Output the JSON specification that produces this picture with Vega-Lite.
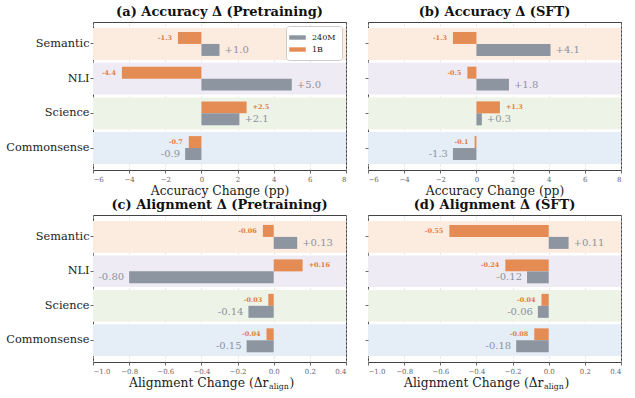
{
  "$schema": "https://vega.github.io/schema/vega-lite/v6.json",
  "padding": 5,
  "datasets": {
    "bands": [
      {"cat": "Semantic"}, {"cat": "NLI"}, {"cat": "Science"}, {"cat": "Commonsense"}
    ],
    "rows": [
      {"panel": "a", "cat": "Semantic", "model": "1B", "v": -1.3, "lab": "-1.3"},
      {"panel": "a", "cat": "Semantic", "model": "240M", "v": 1.0, "lab": "+1.0"},
      {"panel": "a", "cat": "NLI", "model": "1B", "v": -4.4, "lab": "-4.4"},
      {"panel": "a", "cat": "NLI", "model": "240M", "v": 5.0, "lab": "+5.0"},
      {"panel": "a", "cat": "Science", "model": "1B", "v": 2.5, "lab": "+2.5"},
      {"panel": "a", "cat": "Science", "model": "240M", "v": 2.1, "lab": "+2.1"},
      {"panel": "a", "cat": "Commonsense", "model": "1B", "v": -0.7, "lab": "-0.7"},
      {"panel": "a", "cat": "Commonsense", "model": "240M", "v": -0.9, "lab": "-0.9"},
      {"panel": "b", "cat": "Semantic", "model": "1B", "v": -1.3, "lab": "-1.3"},
      {"panel": "b", "cat": "Semantic", "model": "240M", "v": 4.1, "lab": "+4.1"},
      {"panel": "b", "cat": "NLI", "model": "1B", "v": -0.5, "lab": "-0.5"},
      {"panel": "b", "cat": "NLI", "model": "240M", "v": 1.8, "lab": "+1.8"},
      {"panel": "b", "cat": "Science", "model": "1B", "v": 1.3, "lab": "+1.3"},
      {"panel": "b", "cat": "Science", "model": "240M", "v": 0.3, "lab": "+0.3"},
      {"panel": "b", "cat": "Commonsense", "model": "1B", "v": -0.1, "lab": "-0.1"},
      {"panel": "b", "cat": "Commonsense", "model": "240M", "v": -1.3, "lab": "-1.3"},
      {"panel": "c", "cat": "Semantic", "model": "1B", "v": -0.06, "lab": "-0.06"},
      {"panel": "c", "cat": "Semantic", "model": "240M", "v": 0.13, "lab": "+0.13"},
      {"panel": "c", "cat": "NLI", "model": "1B", "v": 0.16, "lab": "+0.16"},
      {"panel": "c", "cat": "NLI", "model": "240M", "v": -0.80, "lab": "-0.80"},
      {"panel": "c", "cat": "Science", "model": "1B", "v": -0.03, "lab": "-0.03"},
      {"panel": "c", "cat": "Science", "model": "240M", "v": -0.14, "lab": "-0.14"},
      {"panel": "c", "cat": "Commonsense", "model": "1B", "v": -0.04, "lab": "-0.04"},
      {"panel": "c", "cat": "Commonsense", "model": "240M", "v": -0.15, "lab": "-0.15"},
      {"panel": "d", "cat": "Semantic", "model": "1B", "v": -0.55, "lab": "-0.55"},
      {"panel": "d", "cat": "Semantic", "model": "240M", "v": 0.11, "lab": "+0.11"},
      {"panel": "d", "cat": "NLI", "model": "1B", "v": -0.24, "lab": "-0.24"},
      {"panel": "d", "cat": "NLI", "model": "240M", "v": -0.12, "lab": "-0.12"},
      {"panel": "d", "cat": "Science", "model": "1B", "v": -0.04, "lab": "-0.04"},
      {"panel": "d", "cat": "Science", "model": "240M", "v": -0.06, "lab": "-0.06"},
      {"panel": "d", "cat": "Commonsense", "model": "1B", "v": -0.08, "lab": "-0.08"},
      {"panel": "d", "cat": "Commonsense", "model": "240M", "v": -0.18, "lab": "-0.18"}
    ]
  },
  "config": {
    "font": "DejaVu Serif",
    "view": {"stroke": "#444", "strokeWidth": 1},
    "axis": {"labelFont": "DejaVu Serif", "titleFont": "DejaVu Serif", "tickColor": "#444", "tickSize": 3, "tickWidth": 0.8, "domain": false},
    "axisX": {"labelFontSize": 7, "labelColor": "#666", "labelOverlap": false, "titleFontSize": 12.3, "titleFontWeight": "normal", "titleColor": "#222", "grid": true, "gridDash": [2, 2], "gridColor": "#cfcfcf", "gridWidth": 0.6, "zindex": 1, "labelPadding": 2, "titlePadding": 2},
    "axisY": {"labelFontSize": 11.3, "labelColor": "#222", "grid": false, "labelPadding": 1},
    "title": {"font": "DejaVu Serif", "fontSize": 13, "fontWeight": "bold", "color": "#111", "offset": 3}
  },
  "spacing": 1,
  "resolve": {"scale": {"color": "independent"}, "legend": {"color": "independent"}},
  "vconcat": [
    {
      "spacing": 17,
      "resolve": {"scale": {"color": "independent"}, "legend": {"color": "independent"}},
      "hconcat": [
        {
          "width": 253, "height": 148,
          "title": "(a) Accuracy Δ (Pretraining)",
          "resolve": {"axis": {"x": "independent"}},
          "layer": [
            {
              "data": {"name": "bands"},
              "mark": {"type": "rect"},
              "encoding": {
                "y": {"field": "cat", "type": "nominal", "scale": {"domain": ["Semantic", "NLI", "Science", "Commonsense"], "paddingInner": 0.08, "paddingOuter": 0.1725}, "axis": {"title": null}},
                "x": {"datum": -6, "type": "quantitative", "scale": {"domain": [-6, 8], "nice": false}, "axis": {"orient": "bottom", "title": "Accuracy Change (pp)", "titleBaseline": "alphabetic", "titleY": 24, "values": [-6, -4, -2, 0, 2, 4, 6, 8], "format": "d", "labelOverlap": false}},
                "x2": {"datum": 8},
                "fill": {"field": "cat", "type": "nominal", "scale": {"domain": ["Semantic", "NLI", "Science", "Commonsense"], "range": ["#fcebdf", "#efebf4", "#edf3e6", "#e5eef7"]}, "legend": null}
              }
            },
            {
              "data": {"name": "rows"},
              "transform": [{"filter": "datum.panel == 'a'"}],
              "mark": {"type": "bar"},
              "encoding": {
                "y": {"field": "cat", "type": "nominal"},
                "yOffset": {"field": "model", "type": "nominal", "scale": {"domain": ["1B", "240M"], "paddingInner": 0, "paddingOuter": 0.333}},
                "x": {"field": "v", "type": "quantitative", "axis": null},
                "color": {"field": "model", "type": "nominal", "scale": {"domain": ["240M", "1B"], "range": ["#8d95a0", "#e58c55"]},
                  "legend": {"title": null, "orient": "top-right", "offset": 4, "padding": 6, "fillColor": "white", "strokeColor": "#cccccc", "cornerRadius": 3, "labelFont": "DejaVu Serif", "labelFontSize": 8, "labelColor": "#222", "symbolType": "M-1.5,-0.4L1.5,-0.4L1.5,0.4L-1.5,0.4Z", "symbolSize": 121, "symbolStrokeWidth": 0, "rowPadding": 2, "labelOffset": 9}}
              }
            },
            {"mark": {"type": "rule", "color": "#333", "strokeWidth": 1.3}, "encoding": {"x": {"datum": 0, "axis": null}}},
            {
              "data": {"name": "rows"},
              "transform": [{"filter": "datum.panel == 'a' && datum.model == '1B'"}],
              "mark": {"type": "text", "fontSize": 6.5, "fontWeight": "bold", "color": "#e07d40", "baseline": "middle", "align": {"expr": "datum.v < 0 ? 'right' : 'left'"}, "dx": {"expr": "datum.v < 0 ? -6 : 6"}},
              "encoding": {"y": {"field": "cat", "type": "nominal"}, "yOffset": {"field": "model", "type": "nominal"}, "x": {"field": "v", "type": "quantitative", "axis": null}, "text": {"field": "lab"}}
            },
            {
              "data": {"name": "rows"},
              "transform": [{"filter": "datum.panel == 'a' && datum.model == '240M'"}],
              "mark": {"type": "text", "fontSize": 10, "color": "#8b929e", "baseline": "middle", "align": {"expr": "datum.v < 0 ? 'right' : 'left'"}, "dx": {"expr": "datum.v < 0 ? -5 : 5"}},
              "encoding": {"y": {"field": "cat", "type": "nominal"}, "yOffset": {"field": "model", "type": "nominal"}, "x": {"field": "v", "type": "quantitative", "axis": null}, "text": {"field": "lab"}}
            }
          ]
        },
        {
          "width": 253, "height": 148,
          "title": "(b) Accuracy Δ (SFT)",
          "resolve": {"axis": {"x": "independent"}},
          "layer": [
            {
              "data": {"name": "bands"},
              "mark": {"type": "rect"},
              "encoding": {
                "y": {"field": "cat", "type": "nominal", "scale": {"domain": ["Semantic", "NLI", "Science", "Commonsense"], "paddingInner": 0.08, "paddingOuter": 0.1725}, "axis": {"title": null, "labels": false}},
                "x": {"datum": -6, "type": "quantitative", "scale": {"domain": [-6, 8], "nice": false}, "axis": {"orient": "bottom", "title": "Accuracy Change (pp)", "titleBaseline": "alphabetic", "titleY": 24, "values": [-6, -4, -2, 0, 2, 4, 6, 8], "format": "d", "labelOverlap": false}},
                "x2": {"datum": 8},
                "fill": {"field": "cat", "type": "nominal", "scale": {"domain": ["Semantic", "NLI", "Science", "Commonsense"], "range": ["#fcebdf", "#efebf4", "#edf3e6", "#e5eef7"]}, "legend": null}
              }
            },
            {
              "data": {"name": "rows"},
              "transform": [{"filter": "datum.panel == 'b'"}],
              "mark": {"type": "bar"},
              "encoding": {
                "y": {"field": "cat", "type": "nominal"},
                "yOffset": {"field": "model", "type": "nominal", "scale": {"domain": ["1B", "240M"], "paddingInner": 0, "paddingOuter": 0.333}},
                "x": {"field": "v", "type": "quantitative", "axis": null},
                "color": {"condition": {"test": "datum.model == '1B'", "value": "#e58c55"}, "value": "#8d95a0"}
              }
            },
            {"mark": {"type": "rule", "color": "#333", "strokeWidth": 1.3}, "encoding": {"x": {"datum": 0, "axis": null}}},
            {
              "data": {"name": "rows"},
              "transform": [{"filter": "datum.panel == 'b' && datum.model == '1B'"}],
              "mark": {"type": "text", "fontSize": 6.5, "fontWeight": "bold", "color": "#e07d40", "baseline": "middle", "align": {"expr": "datum.v < 0 ? 'right' : 'left'"}, "dx": {"expr": "datum.v < 0 ? -6 : 6"}},
              "encoding": {"y": {"field": "cat", "type": "nominal"}, "yOffset": {"field": "model", "type": "nominal"}, "x": {"field": "v", "type": "quantitative", "axis": null}, "text": {"field": "lab"}}
            },
            {
              "data": {"name": "rows"},
              "transform": [{"filter": "datum.panel == 'b' && datum.model == '240M'"}],
              "mark": {"type": "text", "fontSize": 10, "color": "#8b929e", "baseline": "middle", "align": {"expr": "datum.v < 0 ? 'right' : 'left'"}, "dx": {"expr": "datum.v < 0 ? -5 : 5"}},
              "encoding": {"y": {"field": "cat", "type": "nominal"}, "yOffset": {"field": "model", "type": "nominal"}, "x": {"field": "v", "type": "quantitative", "axis": null}, "text": {"field": "lab"}}
            }
          ]
        }
      ]
    },
    {
      "spacing": 17,
      "hconcat": [
        {
          "width": 253, "height": 147,
          "title": "(c) Alignment Δ (Pretraining)",
          "resolve": {"axis": {"x": "independent"}},
          "layer": [
            {
              "data": {"name": "bands"},
              "mark": {"type": "rect"},
              "encoding": {
                "y": {"field": "cat", "type": "nominal", "scale": {"domain": ["Semantic", "NLI", "Science", "Commonsense"], "paddingInner": 0.08, "paddingOuter": 0.1725}, "axis": {"title": null}},
                "x": {"datum": -1, "type": "quantitative", "scale": {"domain": [-1, 0.4], "nice": false}, "axis": {"orient": "bottom", "title": "Alignment Change (Δr", "titleAlign": "right", "titleBaseline": "alphabetic", "titleX": 175, "titleY": 24, "values": [-1, -0.8, -0.6, -0.4, -0.2, 0, 0.2, 0.4], "format": ".1f", "labelOverlap": false}},
                "x2": {"datum": 0.4},
                "fill": {"field": "cat", "type": "nominal", "scale": {"domain": ["Semantic", "NLI", "Science", "Commonsense"], "range": ["#fcebdf", "#efebf4", "#edf3e6", "#e5eef7"]}, "legend": null}
              }
            },
            {
              "data": {"name": "rows"},
              "transform": [{"filter": "datum.panel == 'c'"}],
              "mark": {"type": "bar"},
              "encoding": {
                "y": {"field": "cat", "type": "nominal"},
                "yOffset": {"field": "model", "type": "nominal", "scale": {"domain": ["1B", "240M"], "paddingInner": 0, "paddingOuter": 0.333}},
                "x": {"field": "v", "type": "quantitative", "axis": null},
                "color": {"condition": {"test": "datum.model == '1B'", "value": "#e58c55"}, "value": "#8d95a0"}
              }
            },
            {"mark": {"type": "rule", "color": "#333", "strokeWidth": 1.3}, "encoding": {"x": {"datum": 0, "axis": {"orient": "bottom", "title": "align", "titleFontSize": 7.8, "titleAlign": "left", "titleBaseline": "alphabetic", "titleX": 175.5, "titleY": 26.5, "labels": false, "ticks": false, "grid": false, "domain": false}}}},
            {
              "data": {"name": "rows"},
              "transform": [{"filter": "datum.panel == 'c' && datum.model == '1B'"}],
              "mark": {"type": "text", "fontSize": 6.5, "fontWeight": "bold", "color": "#e07d40", "baseline": "middle", "align": {"expr": "datum.v < 0 ? 'right' : 'left'"}, "dx": {"expr": "datum.v < 0 ? -6 : 6"}},
              "encoding": {"y": {"field": "cat", "type": "nominal"}, "yOffset": {"field": "model", "type": "nominal"}, "x": {"field": "v", "type": "quantitative", "axis": {"orient": "bottom", "title": ")", "titleAlign": "left", "titleBaseline": "alphabetic", "titleX": 196, "titleY": 24, "labels": false, "ticks": false, "grid": false, "domain": false}}, "text": {"field": "lab"}}
            },
            {
              "data": {"name": "rows"},
              "transform": [{"filter": "datum.panel == 'c' && datum.model == '240M'"}],
              "mark": {"type": "text", "fontSize": 10, "color": "#8b929e", "baseline": "middle", "align": {"expr": "datum.v < 0 ? 'right' : 'left'"}, "dx": {"expr": "datum.v < 0 ? -5 : 5"}},
              "encoding": {"y": {"field": "cat", "type": "nominal"}, "yOffset": {"field": "model", "type": "nominal"}, "x": {"field": "v", "type": "quantitative", "axis": null}, "text": {"field": "lab"}}
            }
          ]
        },
        {
          "width": 253, "height": 147,
          "title": "(d) Alignment Δ (SFT)",
          "resolve": {"axis": {"x": "independent"}},
          "layer": [
            {
              "data": {"name": "bands"},
              "mark": {"type": "rect"},
              "encoding": {
                "y": {"field": "cat", "type": "nominal", "scale": {"domain": ["Semantic", "NLI", "Science", "Commonsense"], "paddingInner": 0.08, "paddingOuter": 0.1725}, "axis": {"title": null, "labels": false}},
                "x": {"datum": -1, "type": "quantitative", "scale": {"domain": [-1, 0.4], "nice": false}, "axis": {"orient": "bottom", "title": "Alignment Change (Δr", "titleAlign": "right", "titleBaseline": "alphabetic", "titleX": 175, "titleY": 24, "values": [-1, -0.8, -0.6, -0.4, -0.2, 0, 0.2, 0.4], "format": ".1f", "labelOverlap": false}},
                "x2": {"datum": 0.4},
                "fill": {"field": "cat", "type": "nominal", "scale": {"domain": ["Semantic", "NLI", "Science", "Commonsense"], "range": ["#fcebdf", "#efebf4", "#edf3e6", "#e5eef7"]}, "legend": null}
              }
            },
            {
              "data": {"name": "rows"},
              "transform": [{"filter": "datum.panel == 'd'"}],
              "mark": {"type": "bar"},
              "encoding": {
                "y": {"field": "cat", "type": "nominal"},
                "yOffset": {"field": "model", "type": "nominal", "scale": {"domain": ["1B", "240M"], "paddingInner": 0, "paddingOuter": 0.333}},
                "x": {"field": "v", "type": "quantitative", "axis": null},
                "color": {"condition": {"test": "datum.model == '1B'", "value": "#e58c55"}, "value": "#8d95a0"}
              }
            },
            {"mark": {"type": "rule", "color": "#333", "strokeWidth": 1.3}, "encoding": {"x": {"datum": 0, "axis": {"orient": "bottom", "title": "align", "titleFontSize": 7.8, "titleAlign": "left", "titleBaseline": "alphabetic", "titleX": 175.5, "titleY": 26.5, "labels": false, "ticks": false, "grid": false, "domain": false}}}},
            {
              "data": {"name": "rows"},
              "transform": [{"filter": "datum.panel == 'd' && datum.model == '1B'"}],
              "mark": {"type": "text", "fontSize": 6.5, "fontWeight": "bold", "color": "#e07d40", "baseline": "middle", "align": {"expr": "datum.v < 0 ? 'right' : 'left'"}, "dx": {"expr": "datum.v < 0 ? -6 : 6"}},
              "encoding": {"y": {"field": "cat", "type": "nominal"}, "yOffset": {"field": "model", "type": "nominal"}, "x": {"field": "v", "type": "quantitative", "axis": {"orient": "bottom", "title": ")", "titleAlign": "left", "titleBaseline": "alphabetic", "titleX": 196, "titleY": 24, "labels": false, "ticks": false, "grid": false, "domain": false}}, "text": {"field": "lab"}}
            },
            {
              "data": {"name": "rows"},
              "transform": [{"filter": "datum.panel == 'd' && datum.model == '240M'"}],
              "mark": {"type": "text", "fontSize": 10, "color": "#8b929e", "baseline": "middle", "align": {"expr": "datum.v < 0 ? 'right' : 'left'"}, "dx": {"expr": "datum.v < 0 ? -5 : 5"}},
              "encoding": {"y": {"field": "cat", "type": "nominal"}, "yOffset": {"field": "model", "type": "nominal"}, "x": {"field": "v", "type": "quantitative", "axis": null}, "text": {"field": "lab"}}
            }
          ]
        }
      ]
    }
  ]
}
